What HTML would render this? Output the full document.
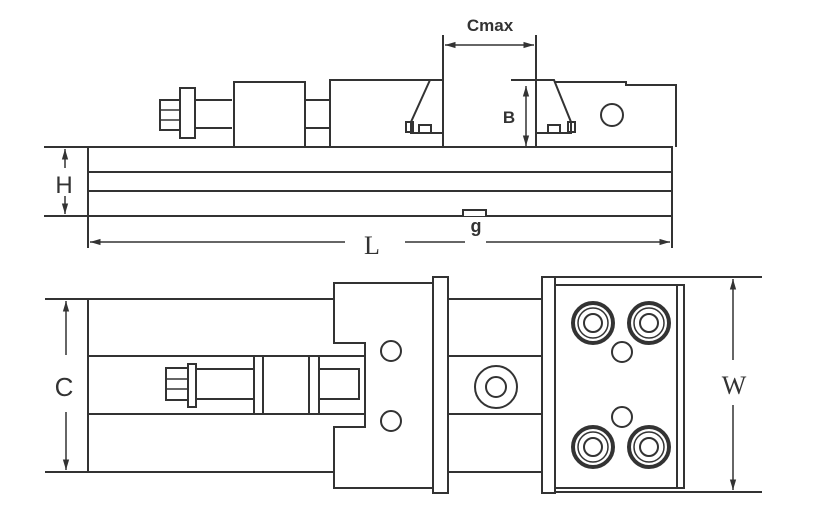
<!DOCTYPE html>
<html><head><meta charset="utf-8"><style>
html,body{margin:0;padding:0;background:#fff;}
svg{display:block;}
text{font-family:"Liberation Sans",sans-serif;fill:#333;}
</style></head><body>
<svg width="816" height="532" viewBox="0 0 816 532" xmlns="http://www.w3.org/2000/svg">
<defs>
<marker id="a" viewBox="0 0 10 10" refX="10" refY="5" markerWidth="7" markerHeight="7" orient="auto-start-reverse"><path d="M0,2 L10,5 L0,8 z" fill="#333"/></marker>
</defs>
<g fill="none" stroke="#333" stroke-width="2">
<!-- TOP VIEW base -->
<rect x="88" y="147" width="584" height="69"/>
<line x1="88" y1="172" x2="672" y2="172"/>
<line x1="88" y1="191" x2="672" y2="191"/>
<path d="M463,216 V210 H486 V216" fill="#fff"/>
<line x1="88" y1="216" x2="88" y2="248"/>
<line x1="672" y1="216" x2="672" y2="248"/>
<!-- H -->
<line x1="44" y1="147" x2="88" y2="147"/>
<line x1="44" y1="216" x2="88" y2="216"/>
<line x1="65" y1="149" x2="65" y2="168" marker-start="url(#a)" stroke-width="1.5"/>
<line x1="65" y1="196" x2="65" y2="214" marker-end="url(#a)" stroke-width="1.5"/>
<!-- L -->
<line x1="90" y1="242" x2="345" y2="242" marker-start="url(#a)" stroke-width="1.5"/>
<line x1="405" y1="242" x2="465" y2="242" stroke-width="1.5"/>
<line x1="486" y1="242" x2="670" y2="242" marker-end="url(#a)" stroke-width="1.5"/>
<!-- handle -->
<rect x="160" y="100" width="20" height="30"/>
<line x1="160" y1="110" x2="180" y2="110" stroke-width="1.5"/>
<line x1="160" y1="120" x2="180" y2="120" stroke-width="1.5"/>
<rect x="180" y="88" width="15" height="50"/>
<line x1="195" y1="100" x2="232" y2="100"/>
<line x1="195" y1="128" x2="232" y2="128"/>
<rect x="234" y="82" width="71" height="65"/>
<line x1="305" y1="100" x2="330" y2="100"/>
<line x1="305" y1="128" x2="330" y2="128"/>
<!-- moving block -->
<path d="M330,147 V80 H443"/>
<path d="M430,80 L411,122 V133 H443"/>
<rect x="406" y="122" width="7" height="10"/>
<rect x="419" y="125" width="12" height="8"/>
<line x1="443" y1="35" x2="443" y2="147"/>
<!-- fixed jaw -->
<line x1="536" y1="35" x2="536" y2="147"/>
<path d="M511,80 H554 L571,122 V133 H536"/>
<rect x="568" y="122" width="7" height="10"/>
<rect x="548" y="125" width="12" height="8"/>
<path d="M554,82 H626 V85 H676 V147"/>
<circle cx="612" cy="115" r="11"/>
<!-- Cmax -->
<line x1="445" y1="45" x2="534" y2="45" marker-start="url(#a)" marker-end="url(#a)" stroke-width="1.5"/>
<!-- B -->
<line x1="526" y1="86" x2="526" y2="146" marker-start="url(#a)" marker-end="url(#a)" stroke-width="1.5"/>

<!-- BOTTOM VIEW -->
<line x1="45" y1="299" x2="88" y2="299"/>
<line x1="45" y1="472" x2="88" y2="472"/>
<line x1="66" y1="301" x2="66" y2="355" marker-start="url(#a)" stroke-width="1.5"/>
<line x1="66" y1="412" x2="66" y2="470" marker-end="url(#a)" stroke-width="1.5"/>
<path d="M334,299 H88 V472 H334"/>
<line x1="88" y1="356" x2="365" y2="356"/>
<line x1="88" y1="414" x2="365" y2="414"/>
<!-- handle in slot -->
<rect x="166" y="368" width="22" height="32"/>
<line x1="166" y1="379" x2="188" y2="379" stroke-width="1.5"/>
<line x1="166" y1="389" x2="188" y2="389" stroke-width="1.5"/>
<rect x="188" y="364" width="8" height="43"/>
<line x1="196" y1="369" x2="254" y2="369"/>
<line x1="196" y1="399" x2="254" y2="399"/>
<line x1="254" y1="356" x2="254" y2="414"/>
<line x1="263" y1="356" x2="263" y2="414"/>
<line x1="309" y1="356" x2="309" y2="414"/>
<line x1="319" y1="356" x2="319" y2="414"/>
<rect x="319" y="369" width="40" height="30"/>
<line x1="359" y1="369" x2="359" y2="399"/>
<!-- block -->
<path d="M334,283 H433 V488 H334 V427 H365 V343 H334 Z" fill="#fff"/>
<circle cx="391" cy="351" r="10"/>
<circle cx="391" cy="421" r="10"/>
<rect x="433" y="277" width="15" height="216"/>
<line x1="448" y1="299" x2="542" y2="299"/>
<line x1="448" y1="356" x2="542" y2="356"/>
<line x1="448" y1="414" x2="542" y2="414"/>
<line x1="448" y1="472" x2="542" y2="472"/>
<circle cx="496" cy="387" r="21"/>
<circle cx="496" cy="387" r="10"/>
<!-- plate -->
<rect x="542" y="277" width="13" height="216"/>
<rect x="555" y="285" width="129" height="203"/>
<line x1="677" y1="285" x2="677" y2="488"/>
<line x1="555" y1="277" x2="762" y2="277"/>
<line x1="555" y1="492" x2="762" y2="492"/>
<line x1="733" y1="279" x2="733" y2="360" marker-start="url(#a)" stroke-width="1.5"/>
<line x1="733" y1="405" x2="733" y2="490" marker-end="url(#a)" stroke-width="1.5"/>
<circle cx="622" cy="352" r="10"/>
<circle cx="622" cy="417" r="10"/>
</g>
<g fill="none" stroke="#333">
<g stroke-width="4"><circle cx="593" cy="323" r="20"/><circle cx="649" cy="323" r="20"/><circle cx="593" cy="447" r="20"/><circle cx="649" cy="447" r="20"/></g>
<g stroke-width="1.5"><circle cx="593" cy="323" r="15"/><circle cx="649" cy="323" r="15"/><circle cx="593" cy="447" r="15"/><circle cx="649" cy="447" r="15"/></g>
<g stroke-width="2"><circle cx="593" cy="323" r="9"/><circle cx="649" cy="323" r="9"/><circle cx="593" cy="447" r="9"/><circle cx="649" cy="447" r="9"/></g>
</g>
<text x="490" y="31" font-size="17" font-weight="bold" text-anchor="middle">Cmax</text>
<text x="509" y="123" font-size="17" font-weight="bold" text-anchor="middle">B</text>
<text x="64" y="193" font-size="24" text-anchor="middle">H</text>
<text x="372" y="254" font-size="26" font-family="Liberation Serif" style="font-family:'Liberation Serif',serif" text-anchor="middle">L</text>
<text x="476" y="232" font-size="18" font-weight="bold" text-anchor="middle">g</text>
<text x="64" y="396" font-size="26" text-anchor="middle">C</text>
<text x="734" y="394" font-size="26" font-family="Liberation Serif" style="font-family:'Liberation Serif',serif" text-anchor="middle">W</text>
</svg>
</body></html>
